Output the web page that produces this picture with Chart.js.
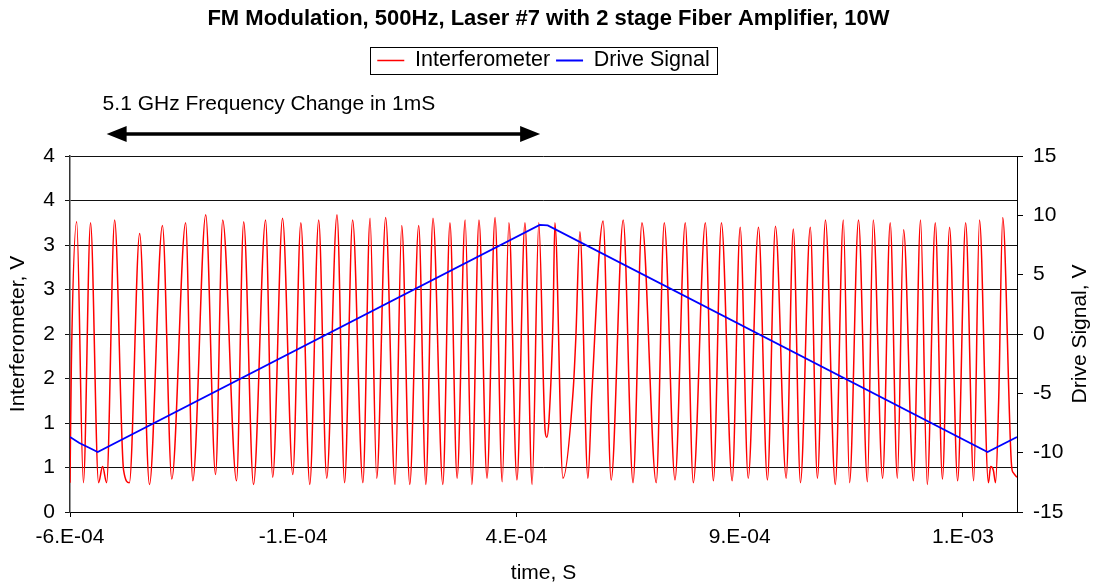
<!DOCTYPE html>
<html>
<head>
<meta charset="utf-8">
<title>FM Modulation, 500Hz</title>
<script src="https://cdn.jsdelivr.net/npm/chart.js@4.4.1/dist/chart.umd.min.js"></script>
<style>
  html, body { margin: 0; padding: 0; background: #fff; }
  canvas { display: block; }
</style>
</head>
<body>
<canvas id="myChart" width="1097" height="586"></canvas>
<script>
// interferometer trace (time in s, volts)
const interfTime = [
  -600e-6, -597e-6, -585e-6, -570e-6, -554e-6, -536e-6, -527e-6, -518e-6, -500e-6, -480e-6,
  -467e-6, -444e-6, -422e-6, -393e-6, -372e-6, -341e-6, -325e-6, -296e-6, -274e-6, -258e-6,
  -227e-6, -211e-6, -189e-6, -162e-6, -146e-6, -124e-6, -101e-6, -83e-6, -63e-6, -43e-6,
  -25e-6, -2e-6, 15e-6, 33e-6, 56e-6, 72e-6, 87e-6, 107e-6, 128e-6, 143e-6,
  161e-6, 181e-6, 197e-6, 213e-6, 235e-6, 251e-6, 267e-6, 285e-6, 300e-6, 316e-6,
  334e-6, 352e-6, 368e-6, 383e-6, 401e-6, 419e-6, 435e-6, 450e-6, 464e-6, 468e-6,
  473e-6, 482e-6, 486e-6, 504e-6, 527e-6, 533e-6, 542e-6, 560e-6, 569e-6, 594e-6,
  612e-6, 639e-6, 661e-6, 681e-6, 713e-6, 731e-6, 755e-6, 778e-6, 796e-6, 823e-6,
  841e-6, 859e-6, 883e-6, 901e-6, 919e-6, 942e-6, 962e-6, 980e-6, 1004e-6, 1020e-6,
  1036e-6, 1058e-6, 1074e-6, 1092e-6, 1114e-6, 1132e-6, 1146e-6, 1166e-6, 1186e-6, 1199e-6,
  1220e-6, 1237e-6, 1253e-6, 1267e-6, 1289e-6, 1305e-6, 1320e-6, 1338e-6, 1354e-6, 1370e-6,
  1388e-6, 1406e-6, 1424e-6, 1437e-6, 1457e-6, 1462e-6, 1468e-6, 1473e-6, 1480e-6, 1489e-6,
  1509e-6, 1513e-6, 1521e-6
];
const interfVolts = [
  0.33, 1.65, 3.26, 0.33, 3.25, 0.33, 0.51, 0.33, 3.28, 0.47,
  0.33, 3.13, 0.31, 3.22, 0.37, 3.25, 0.35, 3.34, 0.42, 3.28,
  0.35, 3.26, 0.31, 3.28, 0.39, 3.30, 0.42, 3.25, 0.31, 3.28,
  0.38, 3.34, 0.33, 3.28, 0.33, 3.30, 0.38, 3.31, 0.31, 3.22,
  0.31, 3.22, 0.31, 3.30, 0.31, 3.25, 0.38, 3.28, 0.31, 3.28,
  0.38, 3.31, 0.34, 3.25, 0.36, 3.25, 0.31, 3.25, 0.92, 0.84,
  1.05, 2.20, 3.25, 0.38, 1.37, 1.97, 3.15, 0.38, 1.35, 3.27,
  0.36, 3.28, 0.33, 3.25, 0.33, 3.25, 0.36, 3.25, 0.33, 3.25,
  0.35, 3.25, 0.35, 3.20, 0.38, 3.20, 0.36, 3.21, 0.38, 3.18,
  0.33, 3.20, 0.38, 3.28, 0.31, 3.28, 0.33, 3.28, 0.34, 3.28,
  0.38, 3.25, 0.38, 3.17, 0.35, 3.28, 0.31, 3.25, 0.37, 3.20,
  0.35, 3.25, 0.35, 3.28, 0.33, 0.51, 0.47, 0.33, 1.26, 3.31,
  0.51, 0.44, 0.39
];

// drive signal (time in s, volts)
const driveTime = [-600e-6, -579e-6, -556e-6, -538e-6, 452e-6, 470e-6, 1455e-6, 1521e-6];
const driveVolts = [-8.68, -9.18, -9.61, -9.94, 9.2, 9.15, -9.94, -8.68];

const xTickValues = [-6e-4, -1e-4, 4e-4, 9e-4, 1.4e-3];
const arrowSpan = [-518e-6, 453e-6];
const noteText = '5.1 GHz Frequency Change in 1mS';

const FONT = '"Liberation Sans", Arial, sans-serif';
Chart.defaults.font.family = FONT;
Chart.defaults.color = '#000';

// excel style "-6.E-04"
const sciLabel = (v) => {
  const [m, e] = Number(v).toExponential(0).split('e');
  const exp = parseInt(e, 10);
  return m + '.E' + (exp < 0 ? '-' : '+') + String(Math.abs(exp)).padStart(2, '0');
};

// makes room under the legend for the arrow note
const legendSpacer = {
  id: 'legendSpacer',
  beforeInit(chart) {
    const fitLegend = chart.legend.fit;
    chart.legend.fit = function fit() {
      fitLegend.bind(chart.legend)();
      this.height += 74.75;
    };
  }
};

const extras = {
  id: 'extras',
  afterDraw(chart) {
    const { ctx, chartArea, scales } = chart;
    ctx.save();

    // legend frame
    const hb = chart.legend.legendHitBoxes;
    if (hb && hb.length) {
      const first = hb[0], last = hb[hb.length - 1];
      ctx.strokeStyle = '#000';
      ctx.lineWidth = 1;
      ctx.strokeRect(Math.round(first.left - 7) + 0.5, Math.round(first.top - 3) + 0.5,
        Math.round(last.left + last.width - first.left + 15), 27);
    }

    // double arrow + note
    const x0 = scales.x.getPixelForValue(arrowSpan[0]);
    const x1 = scales.x.getPixelForValue(arrowSpan[1]);
    const ay = chartArea.top - 22;
    ctx.strokeStyle = '#000';
    ctx.fillStyle = '#000';
    ctx.lineWidth = 3.5;
    ctx.beginPath();
    ctx.moveTo(x0 + 12, ay);
    ctx.lineTo(x1 - 12, ay);
    ctx.stroke();
    ctx.beginPath();
    ctx.moveTo(x0, ay);
    ctx.lineTo(x0 + 20, ay - 8);
    ctx.lineTo(x0 + 20, ay + 8);
    ctx.closePath();
    ctx.fill();
    ctx.beginPath();
    ctx.moveTo(x1, ay);
    ctx.lineTo(x1 - 20, ay - 8);
    ctx.lineTo(x1 - 20, ay + 8);
    ctx.closePath();
    ctx.fill();

    ctx.font = '21px ' + FONT;
    ctx.textAlign = 'left';
    ctx.textBaseline = 'middle';
    ctx.fillText(noteText, x0 - 4, chartArea.top - 52);

    // right axis title, reading bottom to top like the left one
    const yr = scales.y2;
    ctx.translate(1080, (yr.top + yr.bottom) / 2);
    ctx.rotate(-Math.PI / 2);
    ctx.textAlign = 'center';
    ctx.font = '21px ' + FONT;
    ctx.fillText('Drive Signal, V', 0, 0);
    ctx.restore();
  }
};

const ctx = document.getElementById('myChart');
new Chart(ctx, {
  type: 'line',
  data: {
    datasets: [{
      label: 'Interferometer',
      data: interfTime.map((t, i) => ({ x: t, y: interfVolts[i] })),
      borderColor: '#ff0000',
      backgroundColor: '#ff0000',
      borderWidth: 1.5,
      pointRadius: 0,
      cubicInterpolationMode: 'monotone',
      yAxisID: 'y',
      order: 1
    }, {
      label: 'Drive Signal',
      data: driveTime.map((t, i) => ({ x: t, y: driveVolts[i] })),
      borderColor: '#0000ff',
      backgroundColor: '#0000ff',
      borderWidth: 1.8,
      pointRadius: 0,
      tension: 0,
      yAxisID: 'y2',
      order: 0
    }]
  },
  options: {
    responsive: false,
    animation: false,
    devicePixelRatio: 1,
    events: [],
    layout: { padding: 0 },
    plugins: {
      title: {
        display: true,
        text: 'FM Modulation, 500Hz, Laser #7 with 2 stage Fiber Amplifier, 10W',
        font: { size: 22, weight: 'bold' },
        padding: { top: 6, bottom: 11.35 }
      },
      legend: {
        display: true,
        fullSize: false,
        labels: {
          boxWidth: 27,
          boxHeight: 0,
          padding: 6,
          font: { size: 21.5 },
          sort: (a, b) => a.datasetIndex - b.datasetIndex
        }
      },
      tooltip: { enabled: false }
    },
    scales: {
      x: {
        type: 'linear',
        min: -6e-4,
        max: 1.521e-3,
        afterBuildTicks: (scale) => { scale.ticks = xTickValues.map(v => ({ value: v })); },
        afterFit: (scale) => { scale.height = 74; },
        grid: { drawOnChartArea: false, tickLength: 5, color: '#000' },
        border: { color: '#000', width: 1 },
        ticks: {
          autoSkip: false,
          maxRotation: 0,
          padding: 8,
          font: { size: 21 },
          callback: (v) => sciLabel(v)
        },
        title: { display: true, text: 'time, S', font: { size: 21 }, padding: { top: 1, bottom: 0 } }
      },
      y: {
        position: 'left',
        min: 0,
        max: 4,
        afterFit: (scale) => { scale.width = 70; },
        grid: { color: '#111', lineWidth: 1, tickLength: 5 },
        border: { color: '#333', width: 1.5 },
        ticks: {
          stepSize: 0.5,
          padding: 10,
          font: { size: 21 },
          callback: (v) => Math.round(v)
        },
        title: { display: true, text: 'Interferometer, V', font: { size: 21 }, padding: { top: 6, bottom: 0 } }
      },
      y2: {
        position: 'right',
        min: -15,
        max: 15,
        afterFit: (scale) => { scale.width = 80; },
        grid: { drawOnChartArea: false, color: '#000', tickLength: 6 },
        border: { color: '#000', width: 1 },
        ticks: {
          stepSize: 5,
          padding: 10,
          font: { size: 21 }
        }
      }
    }
  },
  plugins: [legendSpacer, extras]
});
</script>
</body>
</html>
